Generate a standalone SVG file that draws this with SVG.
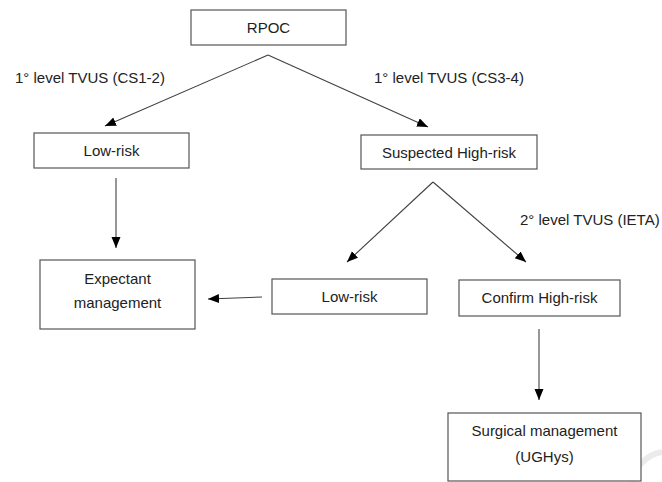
<svg xmlns="http://www.w3.org/2000/svg" width="662" height="482" viewBox="0 0 662 482">
<style>
  .box { fill: #ffffff; stroke: #555555; stroke-width: 1.2; }
  .t { font-family: "Liberation Sans", Arial, sans-serif; font-size: 15px; fill: #222222; }
  .c { text-anchor: middle; }
  .edge { stroke: #404040; stroke-width: 1.1; fill: none; marker-end: url(#arrow); }
</style>
<defs>
  <marker id="arrow" markerUnits="userSpaceOnUse" markerWidth="12" markerHeight="10" refX="11" refY="4.5" orient="auto">
    <path d="M0,0 L11,4.5 L0,9 z" fill="#000000"/>
  </marker>
</defs>
<rect width="662" height="482" fill="#ffffff"/>
<path d="M632,482 A37,37 0 0 1 662,452" fill="none" stroke="#ebebeb" stroke-width="6"/>

<g id="connectors">
  <line class="edge" x1="268" y1="55" x2="105" y2="126"/>
  <line class="edge" x1="268" y1="55" x2="428" y2="127"/>
  <line class="edge" x1="116" y1="178" x2="116" y2="248"/>
  <line class="edge" x1="433" y1="182" x2="347" y2="262"/>
  <line class="edge" x1="433" y1="182" x2="526" y2="262"/>
  <line class="edge" x1="262" y1="297" x2="208" y2="299"/>
  <line class="edge" x1="539" y1="329" x2="539" y2="400"/>
</g>

<g id="labels">
  <text class="t" x="15" y="83">1° level TVUS (CS1-2)</text>
  <text class="t" x="374" y="83">1° level TVUS (CS3-4)</text>
  <text class="t" x="520" y="225">2° level TVUS (IETA)</text>
</g>

<g id="rpoc">
  <rect class="box" x="191" y="10" width="155" height="35"/>
  <text class="t c" x="268.5" y="33">RPOC</text>
</g>
<g id="low-risk-1">
  <rect class="box" x="34" y="133" width="155" height="35"/>
  <text class="t c" x="111.5" y="156">Low-risk</text>
</g>
<g id="suspected-high-risk">
  <rect class="box" x="361" y="135" width="176" height="34"/>
  <text class="t c" x="449" y="158">Suspected High-risk</text>
</g>
<g id="expectant-management">
  <rect class="box" x="40" y="260" width="155" height="69"/>
  <text class="t c" x="117.5" y="284">Expectant</text>
  <text class="t c" x="117.5" y="308">management</text>
</g>
<g id="low-risk-2">
  <rect class="box" x="272" y="279" width="155" height="35"/>
  <text class="t c" x="349.5" y="302">Low-risk</text>
</g>
<g id="confirm-high-risk">
  <rect class="box" x="459" y="280" width="161" height="36"/>
  <text class="t c" x="539.5" y="303">Confirm High-risk</text>
</g>
<g id="surgical-management">
  <rect class="box" x="448" y="413" width="193" height="68"/>
  <text class="t c" x="544.5" y="436">Surgical management</text>
  <text class="t c" x="544.5" y="462">(UGHys)</text>
</g>
</svg>
